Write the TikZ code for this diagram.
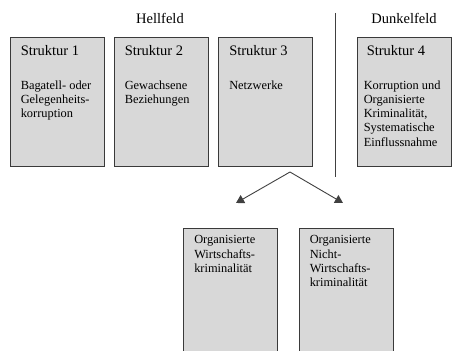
\documentclass[tikz,border=0pt]{standalone}
\usepackage{fontspec}
\setmainfont{Liberation Serif}
\usetikzlibrary{arrows.meta,positioning}
\definecolor{boxFill}{HTML}{D8D8D8}
\definecolor{boxBorder}{HTML}{3A3A3A}
\definecolor{lineGray}{HTML}{404040}
\tikzset{
    strukbox/.style={
        draw=boxBorder,
        fill=boxFill,
        rectangle,
        line width=0.9pt,
        minimum width=94pt,
        minimum height=129pt,
        inner sep=0pt
    },
    subbox/.style={
        strukbox,
        minimum height=124pt
    },
    titletext/.style={
        inner sep=0pt,
        font=\fontsize{14.5}{16}\selectfont
    },
    bodytext/.style={
        inner sep=0pt,
        align=left,
        font=\fontsize{12.4}{14.2}\selectfont
    },
    fieldlabel/.style={
        font=\fontsize{14.5}{16}\selectfont
    },
    arrow/.style={
        -{Triangle[length=8pt,width=9pt]},
        line width=0.9pt,
        color=lineGray
    }
}

\begin{document}
\begin{tikzpicture}[x=1pt,y=-1pt]
    \useasboundingbox (0,0) rectangle (454,350);

    % Field labels and divider
    \node[fieldlabel] (hell) at (160,18) {Hellfeld};
    \node[fieldlabel] (dunkel) at (404,18) {Dunkelfeld};
    \coordinate (divtop) at (335,13);
    \coordinate (divbot) at (335,177);
    \draw[line width=0.9pt, color=lineGray] (divtop) -- (divbot);

    % Structures
    \node[strukbox] (s1) at (57,101.5) {};
    \node[strukbox] (s2) at (161,101.5) {};
    \node[strukbox] (s3) at (265.5,101.5) {};
    \node[strukbox] (s4) at (404,101.5) {};

    \node[titletext, below right=9pt and 11pt of s1.north west] {Struktur 1};
    \node[titletext, below right=9pt and 11pt of s2.north west] {Struktur 2};
    \node[titletext, below right=9pt and 11pt of s3.north west] {Struktur 3};
    \node[titletext, below right=9pt and 10pt of s4.north west] {Struktur 4};

    \node[bodytext, below right=44pt and 11pt of s1.north west] {Bagatell- oder\\Gelegenheits-\\korruption};
    \node[bodytext, below right=44pt and 11pt of s2.north west] {Gewachsene\\Beziehungen};
    \node[bodytext, below right=44pt and 11pt of s3.north west] {Netzwerke};
    \node[bodytext, below right=44pt and 7pt of s4.north west] {Korruption und\\Organisierte\\Kriminalität,\\Systematische\\Einflussnahme};

    % Split of Struktur 3
    \coordinate (split) at (290,172);
    \coordinate (tipl) at (236,203);
    \coordinate (tipr) at (343,203);
    \draw[arrow] (split) -- (tipl);
    \draw[arrow] (split) -- (tipr);

    \node[subbox] (w) at (230.5,290) {};
    \node[subbox] (nw) at (346,290) {};
    \node[bodytext, below right=8pt and 11pt of w.north west] {Organisierte\\Wirtschafts-\\kriminalität};
    \node[bodytext, below right=8pt and 11pt of nw.north west] {Organisierte\\Nicht-\\Wirtschafts-\\kriminalität};
\end{tikzpicture}
\end{document}
